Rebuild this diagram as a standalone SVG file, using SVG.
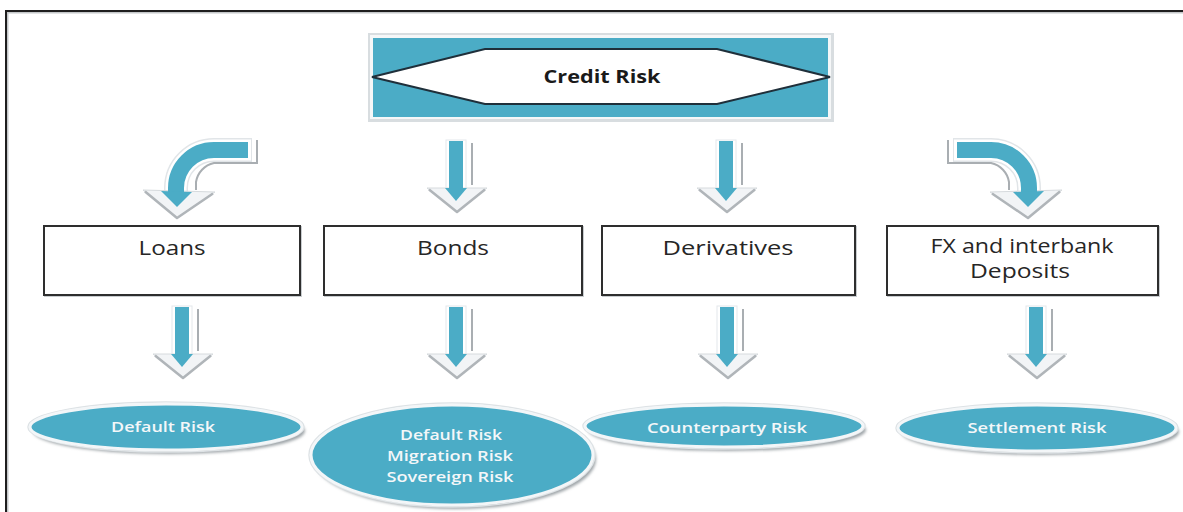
<svg xmlns="http://www.w3.org/2000/svg" xmlns:xlink="http://www.w3.org/1999/xlink" width="1183" height="512" viewBox="0 0 1183 512">
  <style>
    .box { fill: #ffffff; stroke: #2e2e2e; stroke-width: 2; }
    .box-shadow { fill: none; stroke: #c9cdd0; stroke-width: 2; }
    .box-text { font-family: "Open Sans", "Liberation Sans", sans-serif; font-size: 19.5px; fill: #262626; text-anchor: middle; }
    .title-text { font-family: "Open Sans", "Liberation Sans", sans-serif; font-size: 18.5px; font-weight: 700; fill: #1a1a1a; text-anchor: middle; }
    .risk { fill: #4BACC6; stroke: #f3f6f8; stroke-width: 3; }
    .risk-rim { fill: none; stroke: #dde2e5; stroke-width: 1.5; }
    .risk-shadow { fill: #9ea4a8; filter: url(#soft); }
    .risk-text { font-family: "Open Sans", "Liberation Sans", sans-serif; font-size: 15px; font-weight: 600; fill: #f4f7f9; text-anchor: middle; }
    .teal { fill: #4BACC6; }
  </style>
  <defs>
    <filter id="soft" x="-10%" y="-30%" width="120%" height="160%">
      <feGaussianBlur stdDeviation="1.6"/>
    </filter>
    <clipPath id="bonds-text-clip">
      <rect x="300" y="400" width="300" height="86"/>
    </clipPath>
    <!-- straight block arrow pointing down, origin at top centre of the shaft -->
    <g id="down-arrow">
      <rect x="-10" y="-1" width="20" height="50" fill="#ffffff" stroke="#e4e8eb" stroke-width="1"/>
      <line x1="16" y1="2" x2="16" y2="44" stroke="#a9aeb2" stroke-width="2"/>
      <polygon points="-29,47 31,47 1,71" fill="#f2f4f6" stroke="#d6dadd" stroke-width="1"/>
      <polyline points="-27,48.5 1,71 29,48.5" fill="none" stroke="#b0b5b9" stroke-width="2.5" stroke-linejoin="round"/>
      <rect class="teal" x="-7" y="0" width="14" height="49"/>
      <polygon class="teal" points="-11,47 11,47 0,60"/>
    </g>
    <!-- bent block arrow: comes in from the right, turns and points down -->
    <g id="bent-arrow">
      <path d="M 252 150 H 214 A 38 38 0 0 0 176 188 V 194" fill="none" stroke="#e1e5e8" stroke-width="24"/>
      <path d="M 251 150 H 214 A 38 38 0 0 0 176 188 V 194" fill="none" stroke="#ffffff" stroke-width="21"/>
      <path d="M 257 140 V 163 H 214 A 23 23 0 0 0 196 182 V 190" fill="none" stroke="#a9aeb2" stroke-width="2"/>
      <polygon points="143,190 215,192 177,218" fill="#f2f4f6" stroke="#d6dadd" stroke-width="1"/>
      <polyline points="145,191.5 177,218 213,193.5" fill="none" stroke="#b0b5b9" stroke-width="2.5" stroke-linejoin="round"/>
      <path d="M 248 150 H 214 A 38 38 0 0 0 176 188 V 194" fill="none" stroke="#4BACC6" stroke-width="16"/>
      <polygon class="teal" points="161,191 192,192 177,207"/>
    </g>
  </defs>

  <rect width="1183" height="512" fill="#ffffff"/>

  <!-- page frame -->
  <rect x="7.5" y="12.5" width="1200" height="520" fill="none" stroke="#c4c7c9" stroke-width="2"/>
  <rect x="6" y="11" width="1200" height="520" fill="none" stroke="#1e1e1e" stroke-width="2"/>

  <!-- top node -->
  <g id="credit-risk">
    <rect x="368" y="33" width="466" height="89" fill="#d8dde0"/>
    <rect x="370" y="35" width="461" height="84" fill="#f5f7f8"/>
    <rect class="teal" x="373" y="38" width="455" height="79"/>
    <polygon points="372,77 485,49 717,49 830,77 717,104 485,104" fill="#ffffff" stroke="#1f2f3a" stroke-width="2"/>
    <text class="title-text" x="602" y="83" textLength="117" lengthAdjust="spacingAndGlyphs">Credit Risk</text>
  </g>

  <!-- connectors -->
  <g id="connectors">
    <use xlink:href="#bent-arrow"/>
    <use xlink:href="#down-arrow" transform="translate(456 141)"/>
    <use xlink:href="#down-arrow" transform="translate(726 141)"/>
    <use xlink:href="#bent-arrow" transform="translate(1205 0) scale(-1 1)"/>
    <use xlink:href="#down-arrow" transform="translate(182 307)"/>
    <use xlink:href="#down-arrow" transform="translate(456 307)"/>
    <use xlink:href="#down-arrow" transform="translate(727 307)"/>
    <use xlink:href="#down-arrow" transform="translate(1036 307)"/>
  </g>

  <!-- exposure categories -->
  <g id="loans">
    <rect class="box-shadow" x="45" y="227" width="256" height="69"/>
    <rect class="box" x="44" y="226" width="256" height="69"/>
    <text class="box-text" x="172" y="255" textLength="67" lengthAdjust="spacingAndGlyphs">Loans</text>
  </g>
  <g id="bonds">
    <rect class="box-shadow" x="325" y="227" width="258" height="69"/>
    <rect class="box" x="324" y="226" width="258" height="69"/>
    <text class="box-text" x="453" y="255" textLength="72" lengthAdjust="spacingAndGlyphs">Bonds</text>
  </g>
  <g id="derivatives">
    <rect class="box-shadow" x="603" y="227" width="253" height="69"/>
    <rect class="box" x="602" y="226" width="253" height="69"/>
    <text class="box-text" x="728" y="255" textLength="131" lengthAdjust="spacingAndGlyphs">Derivatives</text>
  </g>
  <g id="fx-deposits">
    <rect class="box-shadow" x="888" y="227" width="271" height="69"/>
    <rect class="box" x="887" y="226" width="271" height="69"/>
    <text class="box-text" x="1022" y="253" textLength="183" lengthAdjust="spacingAndGlyphs">FX and interbank</text>
    <text class="box-text" x="1020" y="278" textLength="100" lengthAdjust="spacingAndGlyphs">Deposits</text>
  </g>

  <!-- risk types -->
  <g id="default-risk">
    <ellipse class="risk-shadow" cx="169" cy="431" rx="136" ry="23"/>
    <ellipse class="risk-rim" cx="166" cy="427" rx="138" ry="25"/>
    <ellipse class="risk" cx="166" cy="427" rx="136" ry="23"/>
    <text class="risk-text" x="163" y="432" textLength="104" lengthAdjust="spacingAndGlyphs">Default Risk</text>
  </g>
  <g id="bond-risks">
    <ellipse class="risk-shadow" cx="455" cy="459" rx="141" ry="50"/>
    <ellipse class="risk-rim" cx="452" cy="455" rx="143" ry="52"/>
    <ellipse class="risk" cx="452" cy="455" rx="141" ry="50"/>
    <g clip-path="url(#bonds-text-clip)">
      <text class="risk-text" x="451" y="440" textLength="102" lengthAdjust="spacingAndGlyphs">Default Risk</text>
      <text class="risk-text" x="450" y="461" textLength="126" lengthAdjust="spacingAndGlyphs">Migration Risk</text>
      <text class="risk-text" x="450" y="482" textLength="127" lengthAdjust="spacingAndGlyphs">Sovereign Risk</text>
    </g>
  </g>
  <g id="counterparty-risk">
    <ellipse class="risk-shadow" cx="727" cy="430" rx="139" ry="21"/>
    <ellipse class="risk-rim" cx="724" cy="426" rx="141" ry="23"/>
    <ellipse class="risk" cx="724" cy="426" rx="139" ry="21"/>
    <text class="risk-text" x="727" y="433" textLength="160" lengthAdjust="spacingAndGlyphs">Counterparty Risk</text>
  </g>
  <g id="settlement-risk">
    <ellipse class="risk-shadow" cx="1040" cy="432" rx="139" ry="23"/>
    <ellipse class="risk-rim" cx="1037" cy="428" rx="141" ry="25"/>
    <ellipse class="risk" cx="1037" cy="428" rx="139" ry="23"/>
    <text class="risk-text" x="1037" y="433" textLength="139" lengthAdjust="spacingAndGlyphs">Settlement Risk</text>
  </g>
</svg>
